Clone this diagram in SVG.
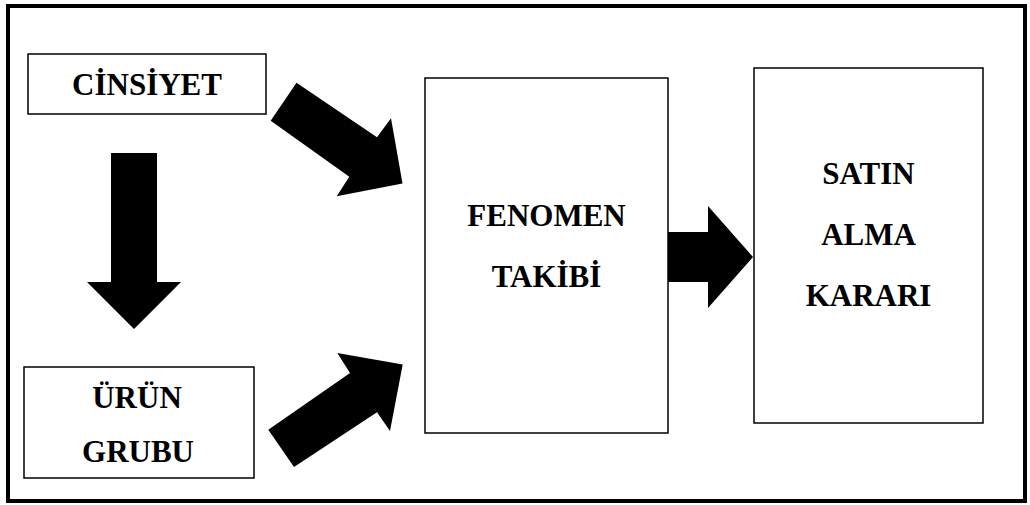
<svg xmlns="http://www.w3.org/2000/svg" width="1030" height="505" viewBox="0 0 1030 505">
  <style>
    .box { fill: #ffffff; stroke: #000000; stroke-width: 1.5; }
    .frame { fill: none; stroke: #000000; stroke-width: 4; }
    .label { font-family: "Liberation Serif", "Times New Roman", serif; font-weight: bold; font-size: 31px; fill: #000000; text-anchor: middle; }
    .arrow { fill: #000000; stroke: none; }
  </style>
  <rect width="1030" height="505" fill="#ffffff"/>
  <!-- outer frame -->
  <rect class="frame" x="8" y="6" width="1017" height="495"/>

  <g id="connectors">
    <!-- CİNSİYET -> ÜRÜN GRUBU -->
    <polygon class="arrow" points="111,153 157,153 157,282 181,282 134,329 87,282 111,282"/>
    <!-- CİNSİYET -> FENOMEN TAKİBİ -->
    <polygon class="arrow" points="296.5,82.7 377,137.3 391,118.3 402.5,183.5 336.7,196.3 349.3,176.7 270.7,120.7"/>
    <!-- ÜRÜN GRUBU -> FENOMEN TAKİBİ -->
    <polygon class="arrow" points="268.3,429.7 350,373 337.3,353 402.7,364.5 390,431 377,412.3 294,467"/>
    <!-- FENOMEN TAKİBİ -> SATIN ALMA KARARI -->
    <polygon class="arrow" points="668,232 708,232 708,206 753,257 708,308 708,282 668,282"/>
  </g>

  <g id="cinsiyet">
    <rect class="box" x="28" y="54" width="238" height="60"/>
    <text class="label" x="147" y="95">CİNSİYET</text>
  </g>

  <g id="urun-grubu">
    <rect class="box" x="24" y="367" width="230" height="111"/>
    <text class="label" x="137" y="408">ÜRÜN</text>
    <text class="label" x="138" y="462">GRUBU</text>
  </g>

  <g id="fenomen-takibi">
    <rect class="box" x="425" y="78" width="243" height="355"/>
    <text class="label" x="546.5" y="226">FENOMEN</text>
    <text class="label" x="546.5" y="287">TAKİBİ</text>
  </g>

  <g id="satin-alma-karari">
    <rect class="box" x="754" y="68" width="229" height="355"/>
    <text class="label" x="868.5" y="184">SATIN</text>
    <text class="label" x="868.5" y="245">ALMA</text>
    <text class="label" x="868.5" y="306">KARARI</text>
  </g>
</svg>
